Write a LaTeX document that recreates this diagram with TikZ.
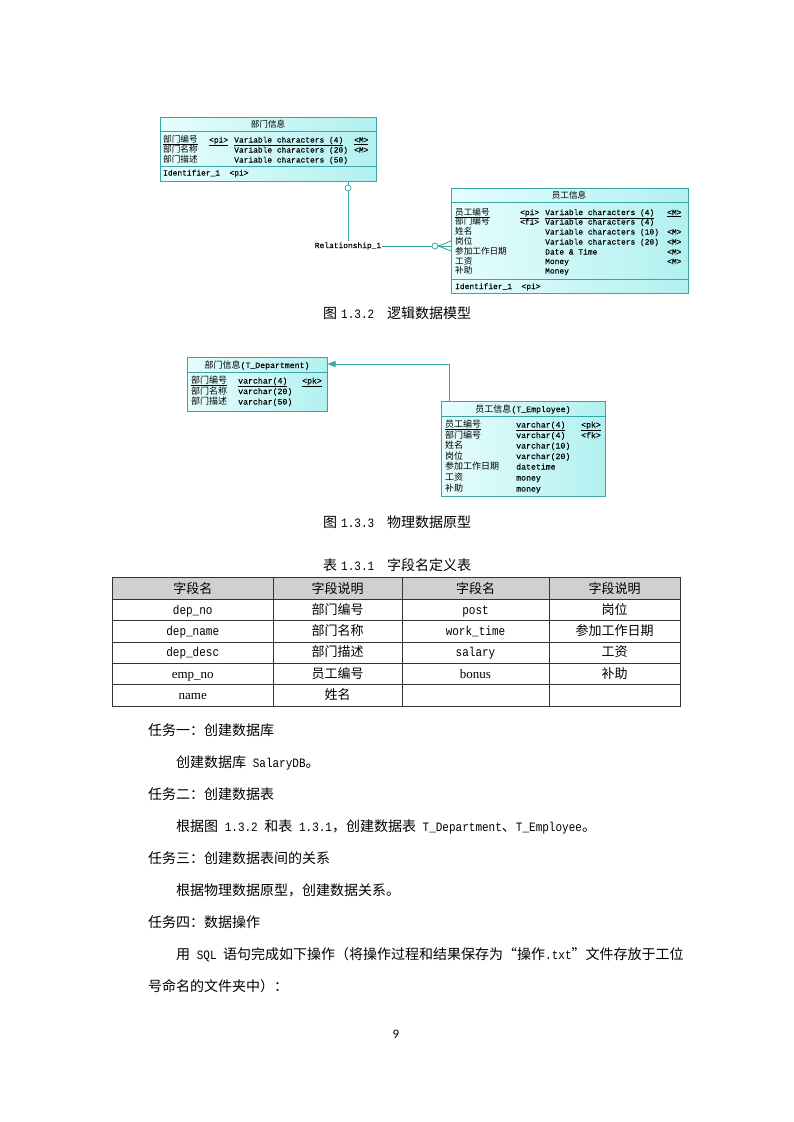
\documentclass[tikz,border=0pt]{standalone}
\usepackage{fontspec}
\setmainfont{Liberation Serif}
\setmonofont{Liberation Mono}
\setsansfont{Carlito}
\newfontfamily\cjk{Noto Sans CJK SC}
\newfontfamily\nmono[FakeStretch=0.86]{Liberation Mono}
\newfontfamily\dmono[FakeBold=0.2]{Liberation Mono}
\usetikzlibrary{arrows.meta}
\definecolor{tealA}{HTML}{3AA5A5}
\definecolor{entA}{HTML}{E6FDFD}
\definecolor{entB}{HTML}{B2F0F0}
\definecolor{hdr}{HTML}{D0D0D0}
\definecolor{grid}{HTML}{333333}
\newcommand{\mytt}[1]{{\nmono\fontsize{12.8pt}{14pt}\selectfont #1}}
\newcommand{\dcj}[1]{{\cjk\fontsize{8.6pt}{10pt}\selectfont #1}}
\newcommand{\dtt}[1]{{\dmono\fontsize{7.9pt}{10pt}\selectfont #1}}
\newcommand{\pcj}[1]{{\cjk\fontsize{9pt}{10pt}\selectfont #1}}
\newcommand{\ptt}[1]{{\dmono\fontsize{8.2pt}{10pt}\selectfont #1}}
\newcommand{\tser}[1]{{\rmfamily\fontsize{13pt}{14pt}\selectfont #1}}
\tikzset{
  entity/.style={draw=tealA, line width=0.8pt, left color=entA, right color=entB, inner sep=0, anchor=north west},
  sepline/.style={draw=tealA, line width=0.8pt},
  dtxt/.style={inner sep=0, anchor=base west},
  conn/.style={draw=tealA, line width=0.9pt},
  ring/.style={circle, draw=tealA, fill=white, line width=0.8pt, minimum size=6pt, inner sep=0},
  body/.style={inner sep=0, anchor=base west, font=\cjk\fontsize{14pt}{16pt}\selectfont},
  capt/.style={inner sep=0, anchor=base west, font=\cjk\fontsize{14pt}{16pt}\selectfont},
  cell/.style={inner sep=0, anchor=base, font=\cjk\fontsize{13pt}{15pt}\selectfont},
  gridline/.style={draw=grid, line width=0.8pt}
}
\begin{document}
\begin{tikzpicture}[x=1pt,y=-1pt]
\useasboundingbox (0,0) rectangle (793,1122);
\fill[white] (0,0) rectangle (793,1122);

% ===== Logical model =====
\node[entity, minimum width=216pt, minimum height=64pt] (e1) at (160,117) {};
\draw[sepline] (160,131.5) -- (376,131.5);
\draw[sepline] (160,166.5) -- (376,166.5);
\node[dtxt, anchor=base] (e1t) at (268,127.5) {\dcj{部门信息}};
\node[dtxt] (e1n1) at (163,142.5) {\dcj{\underline{部门编号}}};
\node[dtxt] (e1n2) at (163,152.5) {\dcj{部门名称}};
\node[dtxt] (e1n3) at (163,162.5) {\dcj{部门描述}};
\node[dtxt] (e1k1) at (209,142.5) {\dtt{\underline{<pi>}}};
\node[dtxt] (e1v1) at (234,142.5) {\dtt{\underline{Variable characters (4)}}};
\node[dtxt] (e1v2) at (234,152.5) {\dtt{Variable characters (20)}};
\node[dtxt] (e1v3) at (234,162.5) {\dtt{Variable characters (50)}};
\node[dtxt] (e1m1) at (354,142.5) {\dtt{\underline{<M>}}};
\node[dtxt] (e1m2) at (354,152.5) {\dtt{<M>}};
\node[dtxt] (e1id) at (163,175.5) {\dtt{Identifier\_1 \ <pi>}};

\node[entity, minimum width=237pt, minimum height=105pt] (e2) at (451,188) {};
\draw[sepline] (451,202) -- (688,202);
\draw[sepline] (451,279) -- (688,279);
\node[dtxt, anchor=base] (e2t) at (569,198.5) {\dcj{员工信息}};
\node[dtxt] (e2n1) at (455,215) {\dcj{\underline{员工编号}}};
\node[dtxt] (e2n2) at (455,224.5) {\dcj{部门编号}};
\node[dtxt] (e2n3) at (455,234.5) {\dcj{姓名}};
\node[dtxt] (e2n4) at (455,244.5) {\dcj{岗位}};
\node[dtxt] (e2n5) at (455,254.5) {\dcj{参加工作日期}};
\node[dtxt] (e2n6) at (455,264) {\dcj{工资}};
\node[dtxt] (e2n7) at (455,273.5) {\dcj{补助}};
\node[dtxt] (e2k1) at (520,215) {\dtt{\underline{<pi>}}};
\node[dtxt] (e2k2) at (520,224.5) {\dtt{<fi>}};
\node[dtxt] (e2v1) at (545,215) {\dtt{\underline{Variable characters (4)}}};
\node[dtxt] (e2v2) at (545,224.5) {\dtt{Variable characters (4)}};
\node[dtxt] (e2v3) at (545,234.5) {\dtt{Variable characters (10)}};
\node[dtxt] (e2v4) at (545,244.5) {\dtt{Variable characters (20)}};
\node[dtxt] (e2v5) at (545,254.5) {\dtt{Date \& Time}};
\node[dtxt] (e2v6) at (545,264) {\dtt{Money}};
\node[dtxt] (e2v7) at (545,273.5) {\dtt{Money}};
\node[dtxt] (e2m1) at (667,215) {\dtt{\underline{<M>}}};
\node[dtxt] (e2m3) at (667,234.5) {\dtt{<M>}};
\node[dtxt] (e2m4) at (667,244.5) {\dtt{<M>}};
\node[dtxt] (e2m5) at (667,254.5) {\dtt{<M>}};
\node[dtxt] (e2m6) at (667,264) {\dtt{<M>}};
\node[dtxt] (e2id) at (455,289) {\dtt{Identifier\_1 \ <pi>}};

% relationship
\node[inner sep=1pt] (rel) at (348,246) {\dtt{Relationship\_1}};
\node[ring] (o1) at (348,188) {};
\node[ring] (o2) at (435,246) {};
\coordinate (cfa) at (451,241);
\coordinate (cfb) at (451,246);
\coordinate (cfc) at (451,251);
\draw[conn] (o1.north) -- (o1.north |- e1.south);
\draw[conn] (o1.south) -- (rel.north);
\draw[conn] (rel.east) -- (o2.west);
\draw[conn] (o2.east) -- (cfa);
\draw[conn] (o2.east) -- (cfb);
\draw[conn] (o2.east) -- (cfc);

\node[capt] (cap1) at (323,318) {图\hspace{4pt}\mytt{1.3.2}\hspace{13pt}逻辑数据模型};

% ===== Physical model =====
\node[entity, minimum width=140pt, minimum height=54pt] (p1) at (187,357) {};
\draw[sepline] (187,372.5) -- (327,372.5);
\node[dtxt, anchor=base] (p1t) at (257,368) {\pcj{部门信息}\ptt{(T\_Department)}};
\node[dtxt] (p1n1) at (191,383.5) {\pcj{\underline{部门编号}}};
\node[dtxt] (p1n2) at (191,394) {\pcj{部门名称}};
\node[dtxt] (p1n3) at (191,404.5) {\pcj{部门描述}};
\node[dtxt] (p1v1) at (238,383.5) {\ptt{\underline{varchar(4)}}};
\node[dtxt] (p1v2) at (238,394) {\ptt{varchar(20)}};
\node[dtxt] (p1v3) at (238,404.5) {\ptt{varchar(50)}};
\node[dtxt] (p1k1) at (302,383.5) {\ptt{\underline{<pk>}}};

\node[entity, minimum width=164pt, minimum height=95pt] (p2) at (441,401) {};
\draw[sepline] (441,416.5) -- (605,416.5);
\node[dtxt, anchor=base] (p2t) at (523,412) {\pcj{员工信息}\ptt{(T\_Employee)}};
\node[dtxt] (p2n1) at (445,427.5) {\pcj{\underline{员工编号}}};
\node[dtxt] (p2n2) at (445,438) {\pcj{部门编号}};
\node[dtxt] (p2n3) at (445,448.5) {\pcj{姓名}};
\node[dtxt] (p2n4) at (445,459) {\pcj{岗位}};
\node[dtxt] (p2n5) at (445,469.5) {\pcj{参加工作日期}};
\node[dtxt] (p2n6) at (445,480.5) {\pcj{工资}};
\node[dtxt] (p2n7) at (445,491.5) {\pcj{补助}};
\node[dtxt] (p2v1) at (516,427.5) {\ptt{\underline{varchar(4)}}};
\node[dtxt] (p2v2) at (516,438) {\ptt{varchar(4)}};
\node[dtxt] (p2v3) at (516,448.5) {\ptt{varchar(10)}};
\node[dtxt] (p2v4) at (516,459) {\ptt{varchar(20)}};
\node[dtxt] (p2v5) at (516,469.5) {\ptt{datetime}};
\node[dtxt] (p2v6) at (516,480.5) {\ptt{money}};
\node[dtxt] (p2v7) at (516,491.5) {\ptt{money}};
\node[dtxt] (p2k1) at (581,427.5) {\ptt{\underline{<pk>}}};
\node[dtxt] (p2k2) at (581,438) {\ptt{<fk>}};

\coordinate (pa) at (449,401);
\coordinate (pb) at (327.5,364);
\draw[conn, -{Triangle[length=8pt,width=6pt]}] (pa) |- (pb);

\node[capt] (cap2) at (323,527) {图\hspace{4pt}\mytt{1.3.3}\hspace{13pt}物理数据原型};

% ===== Table =====
\node[capt] (cap3) at (323,570) {表\hspace{4pt}\mytt{1.3.1}\hspace{13pt}字段名定义表};
\fill[hdr] (112.5,577.5) rectangle (680,599.5);
\draw[gridline] (112.5,577.5) rectangle (680,706);
\foreach \yy in {599.5,620.8,642.1,663.4,684.7}
  \draw[gridline] (112.5,\yy) -- (680,\yy);
\foreach \xx in {273,402,549}
  \draw[gridline] (\xx,577.5) -- (\xx,706);

\node[cell] (h1) at (192.75,593) {字段名};
\node[cell] (h2) at (337.5,593) {字段说明};
\node[cell] (h3) at (475.5,593) {字段名};
\node[cell] (h4) at (614.5,593) {字段说明};

\node[cell] (a1) at (192.75,614.3) {\mytt{dep\_no}};
\node[cell] (a2) at (337.5,614.3) {部门编号};
\node[cell] (a3) at (475.5,614.3) {\mytt{post}};
\node[cell] (a4) at (614.5,614.3) {岗位};

\node[cell] (b1) at (192.75,635.6) {\mytt{dep\_name}};
\node[cell] (b2) at (337.5,635.6) {部门名称};
\node[cell] (b3) at (475.5,635.6) {\mytt{work\_time}};
\node[cell] (b4) at (614.5,635.6) {参加工作日期};

\node[cell] (c1) at (192.75,656.9) {\mytt{dep\_desc}};
\node[cell] (c2) at (337.5,656.9) {部门描述};
\node[cell] (c3) at (475.5,656.9) {\mytt{salary}};
\node[cell] (c4) at (614.5,656.9) {工资};

\node[cell] (d1) at (192.75,678.2) {\tser{emp\_no}};
\node[cell] (d2) at (337.5,678.2) {员工编号};
\node[cell] (d3) at (475.5,678.2) {\tser{bonus}};
\node[cell] (d4) at (614.5,678.2) {补助};

\node[cell] (f1) at (192.75,699.5) {\tser{name}};
\node[cell] (f2) at (337.5,699.5) {姓名};

% ===== Body text =====
\node[body] (l1) at (148,735) {任务一：创建数据库};
\node[body] (l2) at (176,767) {创建数据库\mytt{ SalaryDB}。};
\node[body] (l3) at (148,799) {任务二：创建数据表};
\node[body] (l4) at (176,831) {根据图\mytt{ 1.3.2 }和表\mytt{ 1.3.1}，创建数据表\mytt{ T\_Department}、\mytt{T\_Employee}。};
\node[body] (l5) at (148,863) {任务三：创建数据表间的关系};
\node[body] (l6) at (176,895) {根据物理数据原型，创建数据关系。};
\node[body] (l7) at (148,927) {任务四：数据操作};
\node[body] (l8) at (176,959) {用\mytt{ SQL }语句完成如下操作（将操作过程和结果保存为“操作\mytt{.txt}”文件存放于工位};
\node[body] (l9) at (148,991) {号命名的文件夹中）：};

\node[inner sep=0, anchor=base, font=\sffamily\fontsize{13pt}{15pt}\selectfont] (pg) at (396,1038) {9};
\end{tikzpicture}
\end{document}
